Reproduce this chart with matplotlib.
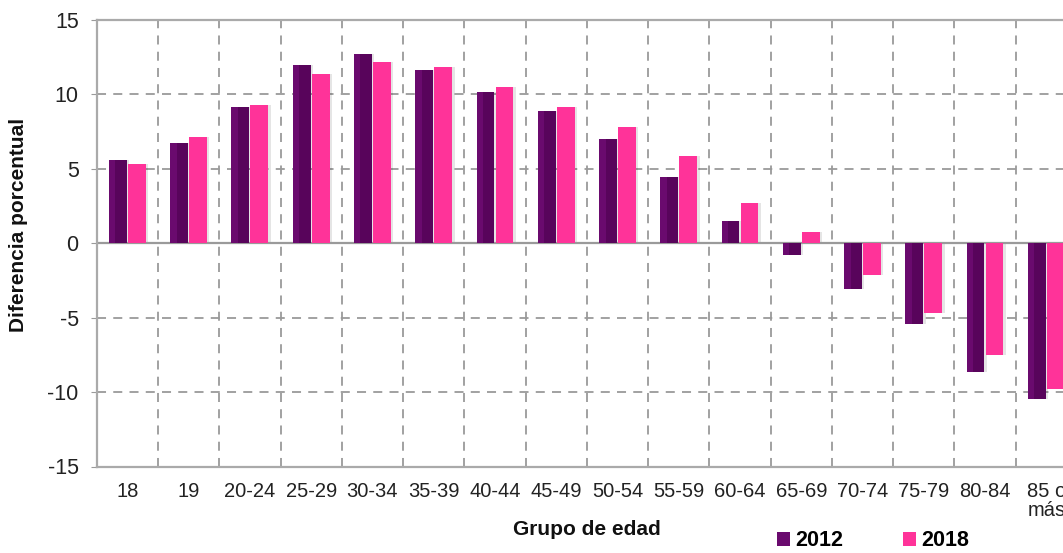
import matplotlib
matplotlib.use("Agg")
import matplotlib.pyplot as plt
import numpy as np
from matplotlib.patches import Patch

categories = ["18", "19", "20-24", "25-29", "30-34", "35-39", "40-44", "45-49",
              "50-54", "55-59", "60-64", "65-69", "70-74", "75-79", "80-84", "85 o\nmás"]
values_2012 = [5.6, 6.75, 9.15, 12.0, 12.7, 11.65, 10.15, 8.9, 7.0, 4.45, 1.5, -0.8,
               -3.1, -5.4, -8.65, -10.45]
values_2018 = [5.3, 7.15, 9.3, 11.35, 12.15, 11.85, 10.5, 9.15, 7.8, 5.85, 2.7, 0.75,
               -2.1, -4.7, -7.5, -9.8]
series_labels = ["2012", "2018"]
yticks = [-15, -10, -5, 0, 5, 10, 15]

c2012 = "#6a0a6e"
c2018 = "#ff3399"
grid_c = "#9a9a9a"

plt.rcParams['font.family'] = ['Liberation Sans', 'DejaVu Sans']
plt.rcParams['axes.unicode_minus'] = False

W, H = 1063, 553
fig = plt.figure(figsize=(W / 100, H / 100), dpi=100)
left_px, right_px, top_px, bot_px = 96.7, 1077.0, 20.0, 466.5
ax = fig.add_axes([left_px / W, (H - bot_px) / H, (right_px - left_px) / W, (bot_px - top_px) / H])

n = len(categories)
x = np.arange(n)
bw = 0.29
off = 0.155

# shadows
ax.bar(x - off + 0.04, values_2012, bw, color="#000000", alpha=0.10, zorder=2)
ax.bar(x + off + 0.04, values_2018, bw, color="#000000", alpha=0.10, zorder=2)

ax.bar(x - off, values_2012, bw, color=c2012, zorder=3)
ax.bar(x - off + bw * 0.18, values_2012, bw * 0.64, color="#4a004c", alpha=0.55, zorder=3.5)
ax.bar(x + off, values_2018, bw, color=c2018, zorder=3)

ax.set_xlim(-0.5, n - 0.5)
ax.set_ylim(-15, 15)
ax.set_yticks(yticks)
ax.set_xticks(x)
ax.set_xticklabels(categories, fontsize=14.5, color="#222222", linespacing=1.0, va="top")
ax.tick_params(axis="y", labelsize=15.5, colors=grid_c, length=4, pad=9)
ax.tick_params(axis="x", length=0, pad=11)
for lab in ax.get_yticklabels():
    lab.set_color("#222222")

# grid
for v in yticks[1:-1]:
    if v != 0:
        ax.axhline(v, color=grid_c, lw=1.3, ls=(0, (5, 4)), zorder=1)
for b in np.arange(0.5, n - 0.5, 1.0):
    ax.axvline(b, color=grid_c, lw=1.3, ls=(0, (5, 4)), zorder=1)
ax.axhline(0, color=grid_c, lw=1.6, zorder=2.5)

for s in ["left", "top", "bottom"]:
    ax.spines[s].set_color("#aaaaaa")
    ax.spines[s].set_linewidth(1.6)
ax.spines["right"].set_visible(False)

ax.set_ylabel("Diferencia porcentual", fontsize=15, fontweight="bold", color="#111111")
ax.yaxis.set_label_coords(19 / W, 1 - 225 / H, transform=fig.transFigure)
ax.yaxis.label.set_va("center")
ax.set_xlabel("Grupo de edad", fontsize=15, fontweight="bold", color="#111111", labelpad=0)

handles = [Patch(facecolor=c2012), Patch(facecolor=c2018)]
leg = fig.legend(handles, series_labels, loc="center left", bbox_to_anchor=(758 / W, 1 - 541 / H),
                 ncol=2, frameon=False, handlelength=0.6, handleheight=0.6, handletextpad=0.25,
                 columnspacing=2.75, prop={"weight": "bold", "size": 15.5})

fig.savefig("out.png", dpi=100)
